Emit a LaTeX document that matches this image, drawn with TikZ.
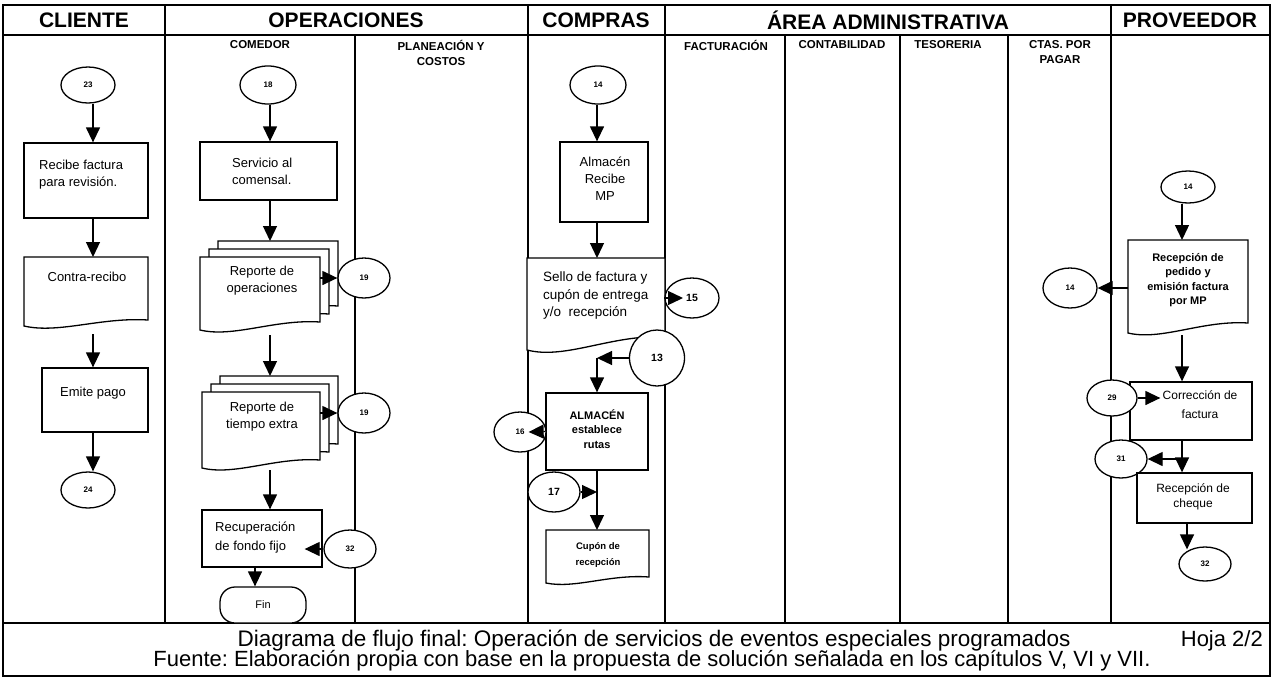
\documentclass[tikz,border=0pt]{standalone}
\usepackage{fontspec}
\setmainfont{Liberation Sans}
\usetikzlibrary{shapes.geometric,arrows.meta,calc}
\frenchspacing

% a node-sized placeholder given by its corners
\newcommand\placebox[6]{\node[#1, minimum width={(#5)-(#3)}, minimum height={(#6)-(#4)}] (#2) at ({((#3)+(#5))/2},{((#4)+(#6))/2}) {};}
% document symbol with a wavy lower edge drawn on a placeholder node
\newcommand\docpath[3]{%
  \path[shapeline, fill=white] (#1.north west) -- (#1.north east) -- ($(#1.south east)+(0,-#2)$)
    .. controls ($(#1.south west)!0.62!(#1.south east)+(0,{-(#2)-3})$)
       and ($(#1.south west)!0.28!(#1.south east)+(0,{2*(#3)})$) .. (#1.south west) -- cycle;}

\begin{document}
\begin{tikzpicture}[x=1pt,y=-1pt,
  frame/.style={line width=1.1pt},
  shapeline/.style={draw, line width=1.3pt},
  holder/.style={rectangle, inner sep=0pt, outer sep=0pt},
  procbox/.style={rectangle, draw, line width=1.3pt, fill=white, inner sep=0pt},
  term/.style={rectangle, rounded corners=15pt, draw, line width=1.3pt, fill=white, inner sep=0pt,
    minimum width=86, minimum height=36, font=\fontsize{11}{13}\selectfont},
  conn/.style={ellipse, draw, line width=1.3pt, fill=white, inner sep=0pt, font=\bfseries\fontsize{8}{9}\selectfont},
  bigconn/.style={conn, font=\bfseries\fontsize{10.5}{12}\selectfont},
  arr/.style={line width=1.3pt, -{Triangle[length=15pt,width=14pt]}},
  hdr/.style={font=\bfseries\fontsize{21}{23}\selectfont, inner sep=0pt},
  sub/.style={font=\bfseries\fontsize{11.5}{15}\selectfont, inner sep=0pt, align=center},
  lbl/.style={font=\fontsize{13}{17}\selectfont, inner sep=0pt, align=center},
  small/.style={font=\bfseries\fontsize{11}{14.5}\selectfont, inner sep=0pt, align=center},
  foot/.style={font=\fontsize{22}{24}\selectfont, inner sep=0pt},
]
\useasboundingbox (0,0) rectangle (1273,678);

% ---------- swimlane frame ----------
\draw[frame] (3,5) rectangle (1270,676);
\draw[frame] (3,35) -- (1270,35);
\draw[frame] (3,623) -- (1270,623);
\foreach \x in {165,528,665,1111} \draw[frame] (\x,5) -- (\x,623);
\foreach \x in {355,785,900,1008} \draw[frame] (\x,35) -- (\x,623);

% ---------- lane titles ----------
\node[hdr] (h-cli) at (84,20) {CLIENTE};
\node[hdr] (h-ope) at (346,20) {OPERACIONES};
\node[hdr] (h-com) at (596,20) {COMPRAS};
\node[hdr] (h-adm) at (888,20) {ÁREA ADMINISTRATIVA};
\node[hdr] (h-pro) at (1190,20) {PROVEEDOR};

\node[sub, anchor=north] (s-com) at (260,40) {COMEDOR};
\node[sub, anchor=north] (s-pla) at (441,40) {PLANEACIÓN Y\\COSTOS};
\node[sub, anchor=north] (s-fac) at (726,40) {FACTURACIÓN};
\node[sub, anchor=north] (s-con) at (842,40) {CONTABILIDAD};
\node[sub, anchor=north] (s-tes) at (948,40) {TESORERIA};
\node[sub, anchor=north] (s-cta) at (1060,40) {CTAS. POR\\PAGAR};

% ---------- CLIENTE ----------
\coordinate (xcli) at (93,0);
\node[conn, minimum width=54, minimum height=36] (c23) at (88,85) {23};
\placebox{procbox}{recibe}{24}{143}{148}{218}
\node[lbl, anchor=west, align=left] (recibe-t) at (39,175) {Recibe factura\\para revisión.};
\placebox{holder}{contra}{24}{257}{148}{326}
\docpath{contra}{6}{4}
\node[lbl] (contra-t) at (87,277) {Contra-recibo};
\placebox{procbox}{emite}{42}{368}{148}{432}
\node[lbl] (emite-t) at (93,393) {Emite pago};
\node[conn, minimum width=54, minimum height=36] (c24) at (88,490) {24};

\draw[arr] (c23.south -| xcli) -- (recibe.north -| xcli);
\draw[arr] (recibe.south -| xcli) -- (contra.north -| xcli);
\draw[arr] ($(contra.south -| xcli)+(0,8)$) -- (emite.north -| xcli);
\draw[arr] (emite.south -| xcli) -- (c24.north -| xcli);

% ---------- OPERACIONES / COMEDOR ----------
\coordinate (xcom) at (270,0);
\coordinate (xfin) at (255,0);
\node[conn, minimum width=56, minimum height=38] (c18) at (268,85) {18};
\placebox{procbox}{servicio}{200}{142}{337}{200}
\node[lbl, anchor=west, align=left] (servicio-t) at (232,171) {Servicio al\\comensal.};

\placebox{holder}{ops3}{218}{241}{338}{314}
\docpath{ops3}{8}{4}
\placebox{holder}{ops2}{209}{249}{329}{322}
\docpath{ops2}{8}{4}
\placebox{holder}{ops}{200}{257}{320}{330}
\docpath{ops}{8}{4}
\node[lbl] (ops-t) at (262,281) {Reporte de\\operaciones};
\node[conn, minimum width=52, minimum height=40] (c19a) at (364,278) {19};

\placebox{holder}{te3}{220}{376}{338}{452}
\docpath{te3}{8}{4}
\placebox{holder}{te2}{211}{384}{329}{460}
\docpath{te2}{8}{4}
\placebox{holder}{te}{202}{392}{320}{468}
\docpath{te}{8}{4}
\node[lbl] (te-t) at (262,417) {Reporte de\\tiempo extra};
\node[conn, minimum width=52, minimum height=40] (c19b) at (364,413) {19};

\placebox{procbox}{recup}{202}{510}{322}{567}
\node[lbl, anchor=west, align=left] (recup-t) at (215,538) {Recuperación\\[2pt]de fondo fijo};
\node[conn, minimum width=52, minimum height=38] (c32a) at (350,549) {32};
\node[term] (fin) at (263,605) {Fin};

\draw[arr] (c18.south -| xcom) -- (servicio.north -| xcom);
\draw[arr] (servicio.south -| xcom) -- (ops3.north -| xcom);
\draw[arr] (ops.east |- c19a.west) -- (c19a.west);
\draw[arr] ($(ops.south -| xcom)+(0,5)$) -- (te3.north -| xcom);
\draw[arr] (te.east |- c19b.west) -- (c19b.west);
\draw[arr] ($(te.south -| xcom)+(0,2)$) -- (recup.north -| xcom);
\draw[arr] (c32a.west) -- ($(recup.east |- c32a.west)+(-18,0)$);
\draw[arr] (recup.south -| xfin) -- (fin.north -| xfin);

% ---------- COMPRAS ----------
\coordinate (xalm) at (597,0);
\node[conn, minimum width=56, minimum height=38] (c14a) at (598,85) {14};
\placebox{procbox}{almacen}{560}{142}{648}{222}
\node[lbl] (almacen-t) at (605,179) {Almacén\\Recibe\\MP};
\placebox{holder}{sello}{527}{258}{665}{350}
\docpath{sello}{13}{5}
\node[lbl, anchor=west, align=left, font=\fontsize{13.5}{17.5}\selectfont] (sello-t) at (543,296) {Sello de factura y\\cupón de entrega\\y/o\ \ recepción};
\node[bigconn, minimum width=54, minimum height=40] (c15) at (692,298) {15};
\node[bigconn, minimum width=55, minimum height=56] (c13) at (657,358) {13};
\placebox{procbox}{almacen2}{546}{393}{648}{470}
\node[small] (almacen2-t) at (597,429) {ALMACÉN\\establece\\rutas};
\node[conn, minimum width=52, minimum height=40] (c16) at (520,432) {16};
\node[bigconn, minimum width=52, minimum height=40] (c17) at (554,492) {17};
\placebox{holder}{cupon}{546}{530}{649}{583}
\docpath{cupon}{6}{3}
\node[small, font=\bfseries\fontsize{9.5}{16}\selectfont] (cupon-t) at (598,555) {Cupón de\\recepción};

\draw[arr] (c14a.south -| xalm) -- (almacen.north -| xalm);
\draw[arr] (almacen.south -| xalm) -- (sello.north -| xalm);
\draw[arr] (c15.west) -- ($(sello.east |- c15.west)+(18,0)$);
\draw[arr] (c13.west) -- (c13.west -| xalm);
\draw[arr] (c13.west -| xalm) -- (almacen2.north -| xalm);
\draw[arr] (almacen2.west) -- ($(c16.east)+(-18,0)$);
\draw[arr] (almacen2.south -| xalm) -- (cupon.north -| xalm);
\draw[arr] (c17.east) -- (c17.east -| xalm);

% ---------- PROVEEDOR ----------
\coordinate (xprov) at (1182,0);
\coordinate (xchq) at (1187,0);
\node[conn, minimum width=54, minimum height=32] (c14b) at (1188,187) {14};
\placebox{holder}{recped}{1128}{240}{1248}{333}
\docpath{recped}{10}{4}
\node[small] (recped-t) at (1188,280) {Recepción de\\pedido y\\emisión factura\\por MP};
\node[conn, minimum width=54, minimum height=40] (c14c) at (1070,288) {14};
\placebox{procbox}{correc}{1130}{382}{1252}{440}
\node[lbl, font=\fontsize{12}{19}\selectfont] (correc-t) at (1200,405) {Corrección de\\factura};
\node[conn, minimum width=50, minimum height=36] (c29) at (1112,398) {29};
\node[conn, minimum width=52, minimum height=38] (c31) at (1121,459) {31};
\placebox{procbox}{cheque}{1137}{473}{1252}{523}
\node[lbl, font=\fontsize{12}{15}\selectfont] (cheque-t) at (1193,497) {Recepción de\\cheque};
\node[conn, minimum width=52, minimum height=34] (c32b) at (1205,564) {32};

\draw[arr] (c14b.south -| xprov) -- (recped.north -| xprov);
\draw[arr] (recped.west |- c14c.east) -- (c14c.east);
\draw[arr] ($(recped.south -| xprov)+(0,2)$) -- (correc.north -| xprov);
\draw[arr] (c29.east) -- ($(correc.west |- c29.east)+(31,0)$);
\draw[arr] (correc.south -| xprov) -- (cheque.north -| xprov);
\draw[arr] (c31.east -| xprov) -- (c31.east);
\draw[arr] (cheque.south -| xchq) -- ($(c32b.north -| xchq)+(0,3)$);

% ---------- footer ----------
\node[foot, font=\fontsize{22.5}{24}\selectfont] (f1) at (654,641) {Diagrama de flujo final: Operación de servicios de eventos especiales programados};
\node[foot, anchor=east] (f3) at (1263,641) {Hoja 2/2};
\node[foot] (f2) at (652,661) {Fuente: Elaboración propia con base en la propuesta de solución señalada en los capítulos V, VI y VII.};
\end{tikzpicture}
\end{document}
